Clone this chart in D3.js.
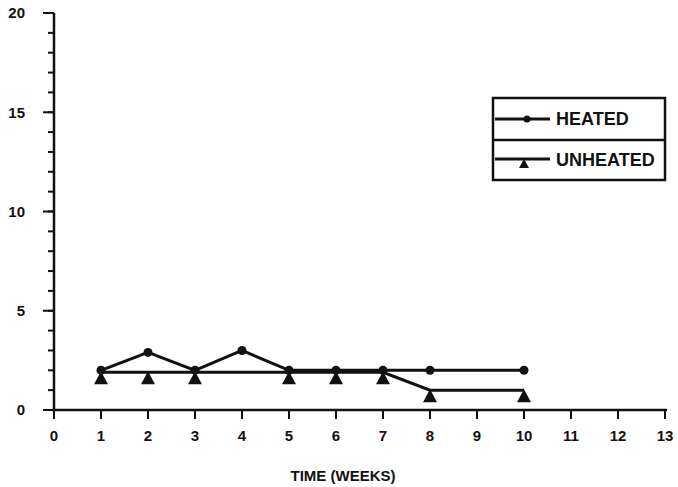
<!DOCTYPE html>
<meta charset="utf-8">
<style>
body { margin: 0; background: #fff; }
text { font-family: "Liberation Sans", Arial, sans-serif; font-weight: bold; fill: #111; }
</style>
<body>
<svg width="678" height="487"></svg>
<script src="https://d3js.org/d3.v7.min.js"></script>
<script>

// weeks and values
var heatedWeeks = [1, 2, 3, 4, 5, 6, 7, 8, 10];
var heatedVals  = [2, 2.9, 2, 3, 2, 2, 2, 2, 2];
var unheatedWeeks = [1, 2, 3, 5, 6, 7, 8, 10];
var unheatedVals  = [1.9, 1.9, 1.9, 1.9, 1.9, 1.9, 1, 1];
var xTicks = [0, 1, 2, 3, 4, 5, 6, 7, 8, 9, 10, 11, 12, 13];
var yMajor = [0, 5, 10, 15, 20];
var yMinor = d3.range(0, 21);

var svg = d3.select("svg");
var x = d3.scaleLinear().domain([0, 13]).range([54, 665]);
var y = d3.scaleLinear().domain([0, 20]).range([410, 13]);
var ink = "#111";

// y axis
var ya = svg.append("g");
ya.append("line").attr("x1", 54).attr("x2", 54).attr("y1", y(20)).attr("y2", y(0) + 1)
  .attr("stroke", ink).attr("stroke-width", 2.5);
ya.selectAll(".mi").data(yMinor).enter().append("line")
  .attr("x1", 48).attr("x2", 54).attr("y1", d => y(d)).attr("y2", d => y(d))
  .attr("stroke", ink).attr("stroke-width", 2);
ya.selectAll(".ma").data(yMajor).enter().append("line")
  .attr("x1", 43).attr("x2", 54).attr("y1", d => y(d)).attr("y2", d => y(d))
  .attr("stroke", ink).attr("stroke-width", 2);
ya.selectAll("text").data(yMajor).enter().append("text")
  .attr("x", 25).attr("y", d => y(d)).attr("dy", "0.35em")
  .attr("text-anchor", "end").style("font-size", "15px").text(d => d);

// x axis
var xa = svg.append("g");
xa.append("line").attr("x1", 53).attr("x2", 667).attr("y1", 410).attr("y2", 410)
  .attr("stroke", ink).attr("stroke-width", 2.5);
xa.selectAll(".t").data(xTicks).enter().append("line")
  .attr("x1", d => x(d)).attr("x2", d => x(d)).attr("y1", 410).attr("y2", 419)
  .attr("stroke", ink).attr("stroke-width", 2);
xa.selectAll("text").data(xTicks).enter().append("text")
  .attr("x", d => x(d)).attr("y", 436).attr("dy", "0.35em")
  .attr("text-anchor", "middle").style("font-size", "15px").text(d => d);

svg.append("text").attr("x", 343).attr("y", 476).attr("dy", "0.35em")
  .attr("text-anchor", "middle").style("font-size", "15px").text("TIME (WEEKS)");

var line = d3.line().x(d => x(d[0])).y(d => y(d[1]));
var heated = heatedWeeks.map((w, i) => [w, heatedVals[i]]);
var unheated = unheatedWeeks.map((w, i) => [w, unheatedVals[i]]);

svg.append("path").datum(unheated).attr("d", line)
  .attr("fill", "none").attr("stroke", ink).attr("stroke-width", 3);
svg.append("path").datum(heated).attr("d", line)
  .attr("fill", "none").attr("stroke", ink).attr("stroke-width", 3);

var tri = "M0,-1L7,12L-7,12Z";
svg.selectAll(".tri").data(unheated).enter().append("path")
  .attr("d", tri).attr("transform", d => "translate(" + x(d[0]) + "," + y(d[1]) + ")")
  .attr("fill", ink);
svg.selectAll(".dot").data(heated).enter().append("circle")
  .attr("cx", d => x(d[0])).attr("cy", d => y(d[1])).attr("r", 4.5)
  .attr("fill", ink);

// legend
var lg = svg.append("g");
lg.append("rect").attr("x", 493).attr("y", 98).attr("width", 172).attr("height", 82)
  .attr("fill", "none").attr("stroke", ink).attr("stroke-width", 2.5);
lg.append("line").attr("x1", 493).attr("x2", 665).attr("y1", 140).attr("y2", 140)
  .attr("stroke", ink).attr("stroke-width", 2.5);
lg.append("line").attr("x1", 495).attr("x2", 550).attr("y1", 119).attr("y2", 119)
  .attr("stroke", ink).attr("stroke-width", 3);
lg.append("circle").attr("cx", 527).attr("cy", 119).attr("r", 3.5).attr("fill", ink);
lg.append("line").attr("x1", 495).attr("x2", 550).attr("y1", 159).attr("y2", 159)
  .attr("stroke", ink).attr("stroke-width", 3);
lg.append("path").attr("d", "M0,0L5,9L-5,9Z").attr("transform", "translate(524,159)").attr("fill", ink);
lg.append("text").attr("x", 556).attr("y", 119).attr("dy", "0.35em")
  .style("font-size", "18px").text("HEATED");
lg.append("text").attr("x", 556).attr("y", 160).attr("dy", "0.35em")
  .style("font-size", "18px").text("UNHEATED");

</script>
</body>
</html>
